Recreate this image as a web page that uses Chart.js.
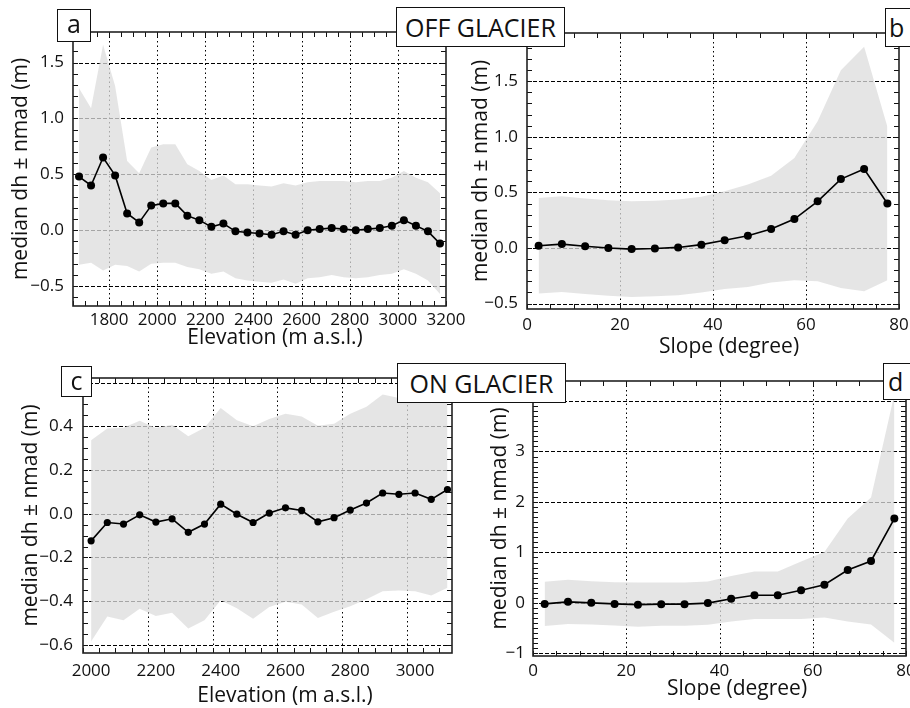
<!DOCTYPE html>
<html>
<head>
<meta charset="utf-8">
<script src="https://cdn.jsdelivr.net/npm/chart.js@4.4.0/dist/chart.umd.min.js"></script>
<style>
  body { margin: 0; background: #fff; }
  #fig { position: relative; width: 910px; height: 708px; overflow: hidden; }
  canvas { position: absolute; left: 0; top: 0; }
  .tag {
    position: absolute; box-sizing: border-box; background: #fff;
    border: 1.5px solid #111; display: flex; align-items: center; justify-content: center;
    font-family: "Open Sans", sans-serif; font-size: 25px; color: #111; line-height: 1;
  }
</style>
</head>
<body>
<div id="fig">
  <canvas id="pa" width="910" height="708"></canvas>
  <canvas id="pb" width="910" height="708"></canvas>
  <canvas id="pc" width="910" height="708"></canvas>
  <canvas id="pd" width="910" height="708"></canvas>
  <div class="tag" style="left:57px;top:9px;width:34px;height:33px;padding-bottom:4px">a</div>
  <div class="tag" style="left:885px;top:8px;width:32px;height:39px;justify-content:flex-start;padding-left:3px">b</div>
  <div class="tag" style="left:61px;top:366px;width:31px;height:31px;padding-bottom:3px">c</div>
  <div class="tag" style="left:883px;top:363px;width:34px;height:37px;justify-content:flex-start;padding-left:4px">d</div>
  <div class="tag" style="left:396px;top:7px;width:169px;height:40px">OFF GLACIER</div>
  <div class="tag" style="left:397px;top:363px;width:169px;height:40px">ON GLACIER</div>
</div>

<script>
// bins
const elevOff = [1675, 1725, 1775, 1825, 1875, 1925, 1975, 2025, 2075, 2125, 2175, 2225, 2275, 2325, 2375, 2425,
  2475, 2525, 2575, 2625, 2675, 2725, 2775, 2825, 2875, 2925, 2975, 3025, 3075, 3125, 3175];
const elevOn = [2000, 2050, 2100, 2150, 2200, 2250, 2300, 2350, 2400, 2450, 2500, 2550, 2600, 2650, 2700, 2750,
  2800, 2850, 2900, 2950, 3000, 3050, 3100];
const slopeBins = [2.5, 7.5, 12.5, 17.5, 22.5, 27.5, 32.5, 37.5, 42.5, 47.5, 52.5, 57.5, 62.5, 67.5, 72.5, 77.5];

// median dh and nmad (m)
const medOffElev = [0.48, 0.40, 0.65, 0.49, 0.15, 0.07, 0.22, 0.24, 0.24, 0.13, 0.09, 0.03, 0.06, -0.01, -0.02, -0.03,
  -0.04, -0.01, -0.04, 0.00, 0.01, 0.02, 0.01, 0.00, 0.01, 0.02, 0.04, 0.09, 0.04, -0.01, -0.12];
const nmadOffElev = [0.79, 0.69, 1.01, 0.80, 0.47, 0.44, 0.52, 0.53, 0.53, 0.46, 0.44, 0.42, 0.43, 0.42, 0.43, 0.43,
  0.43, 0.43, 0.44, 0.43, 0.43, 0.42, 0.43, 0.43, 0.43, 0.42, 0.43, 0.44, 0.43, 0.44, 0.45];
const medOffSlope = [0.02, 0.035, 0.015, 0.0, -0.01, -0.005, 0.005, 0.03, 0.07, 0.11, 0.17, 0.26, 0.42, 0.62, 0.71, 0.40];
const nmadOffSlope = [0.43, 0.43, 0.43, 0.43, 0.43, 0.43, 0.43, 0.43, 0.44, 0.46, 0.48, 0.55, 0.72, 0.98, 1.10, 0.69];
const medOnElev = [-0.124, -0.04, -0.047, -0.005, -0.038, -0.023, -0.085, -0.047, 0.044, -0.002, -0.04, 0.003,
  0.027, 0.015, -0.037, -0.018, 0.017, 0.049, 0.095, 0.089, 0.095, 0.066, 0.111];
const nmadOnElev = [0.46, 0.43, 0.44, 0.43, 0.43, 0.43, 0.44, 0.44, 0.44, 0.43, 0.44, 0.43, 0.43, 0.43, 0.44, 0.43,
  0.44, 0.44, 0.45, 0.44, 0.45, 0.44, 0.45];
const medOnSlope = [-0.02, 0.02, 0.0, -0.02, -0.035, -0.025, -0.025, -0.005, 0.08, 0.15, 0.15, 0.25, 0.36, 0.65, 0.83, 1.67];
const nmadOnSlope = [0.44, 0.44, 0.43, 0.43, 0.44, 0.43, 0.43, 0.43, 0.45, 0.47, 0.47, 0.57, 0.65, 1.02, 1.26, 2.46];

// tick labels
const elevOffTicks = [1800, 2000, 2200, 2400, 2600, 2800, 3000, 3200];
const elevOnTicks = [2000, 2200, 2400, 2600, 2800, 3000];
const slopeTicks = [0, 20, 40, 60, 80];
const dhOffTicks = [-0.5, 0.0, 0.5, 1.0, 1.5];
const dhOnElevTicks = [-0.6, -0.4, -0.2, 0.0, 0.2, 0.4];
const dhOnSlopeTicks = [-1, 0, 1, 2, 3];

const BAND = 'rgba(220,220,220,0.75)';
const FONT = '"Open Sans", sans-serif';
const YW = 70, XH = 40;
Chart.defaults.font.family = FONT;
Chart.defaults.color = '#111';

const fmt = dec => v => (v < 0 ? '\u2212' : '') + Math.abs(v).toFixed(dec);

// grid, frame, inward ticks and axis titles
function deco(p) {
  const line = (ctx, x1, y1, x2, y2) => { ctx.beginPath(); ctx.moveTo(x1, y1); ctx.lineTo(x2, y2); ctx.stroke(); };
  return {
    id: 'deco',
    beforeDatasetsDraw(chart) {
      const { ctx, chartArea: a, scales: { x, y } } = chart;
      ctx.save();
      ctx.strokeStyle = '#000';
      ctx.lineWidth = 1;
      ctx.setLineDash([4, 2]);
      p.gridY.forEach(v => { const py = Math.round(y.getPixelForValue(v)) + 0.5; line(ctx, a.left, py, a.right, py); });
      ctx.setLineDash([1.5, 3]);
      p.gridX.forEach(v => { const px = Math.round(x.getPixelForValue(v)) + 0.5; line(ctx, px, a.top, px, a.bottom); });
      ctx.restore();
    },
    afterDatasetsDraw(chart) {
      const { ctx, chartArea: a, scales: { x, y } } = chart;
      ctx.save();
      ctx.strokeStyle = '#111';
      ctx.lineWidth = 1;
      const [x0, dx] = p.minorX, [y0, dy] = p.minorY;
      for (let k = 0; x0 + k * dx <= x.max + 1e-9; k++) {
        const px = Math.round(x.getPixelForValue(x0 + k * dx)) + 0.5;
        line(ctx, px, a.bottom, px, a.bottom - 5);
        line(ctx, px, a.top, px, a.top + 5);
      }
      for (let k = 0; y0 + k * dy <= y.max + 1e-9; k++) {
        const py = Math.round(y.getPixelForValue(y0 + k * dy)) + 0.5;
        line(ctx, a.left, py, a.left + 5, py);
        line(ctx, a.right, py, a.right - 5, py);
      }
      ctx.lineWidth = 1.6;
      ctx.strokeStyle = '#222';
      ctx.strokeRect(a.left, a.top, a.right - a.left, a.bottom - a.top);
      ctx.restore();
    },
    afterDraw(chart) {
      const { ctx, chartArea: a } = chart;
      ctx.save();
      ctx.fillStyle = '#111';
      ctx.font = '21px ' + FONT;
      ctx.textAlign = 'center';
      ctx.textBaseline = 'alphabetic';
      ctx.fillText(p.xTitle, p.xTitlePos[0], p.xTitlePos[1]);
      ctx.translate(p.yTitleX, (a.top + a.bottom) / 2);
      ctx.rotate(-Math.PI / 2);
      ctx.fillText('median dh \u00b1 nmad (m)', 0, 0);
      ctx.restore();
    }
  };
}

function makePanel(id, p) {
  const upper = p.x.map((x, i) => ({ x, y: p.med[i] + p.nmad[i] }));
  const lower = p.x.map((x, i) => ({ x, y: p.med[i] - p.nmad[i] }));
  const median = p.x.map((x, i) => ({ x, y: p.med[i] }));
  const [left, right, top, bottom] = p.area;

  new Chart(document.getElementById(id), {
    type: 'line',
    data: {
      // first dataset is drawn on top
      datasets: [
        { data: median, fill: false, borderColor: '#000', borderWidth: 1.6, tension: 0,
          pointRadius: p.r, pointBackgroundColor: '#000', pointBorderWidth: 0 },
        { data: upper, fill: '+1', backgroundColor: BAND, borderColor: 'rgba(0,0,0,0)', borderWidth: 0, pointRadius: 0 },
        { data: lower, fill: false, borderColor: 'rgba(0,0,0,0)', borderWidth: 0, pointRadius: 0 }
      ]
    },
    options: {
      responsive: false,
      animation: false,
      events: [],
      layout: { padding: { left: left - YW, right: 910 - right, top: top, bottom: 708 - bottom - XH } },
      plugins: { legend: { display: false }, tooltip: { enabled: false } },
      scales: {
        x: {
          type: 'linear', min: p.xRange[0], max: p.xRange[1],
          grid: { display: false, drawTicks: false }, border: { display: false },
          afterBuildTicks: s => { s.ticks = p.xTicks.map(v => ({ value: v })); },
          afterFit: s => { s.height = XH; s.paddingLeft = 0; s.paddingRight = 0; },
          ticks: { padding: p.xPad, font: { size: 17 }, color: '#111', maxRotation: 0, autoSkip: false,
            callback: v => String(v) }
        },
        y: {
          type: 'linear', min: p.yRange[0], max: p.yRange[1],
          grid: { display: false, drawTicks: false }, border: { display: false },
          afterBuildTicks: s => { s.ticks = p.yTicks.map(v => ({ value: v })); },
          afterFit: s => { s.width = YW; s.paddingTop = 0; s.paddingBottom = 0; },
          ticks: { padding: p.yPad, font: { size: 17 }, color: '#111', autoSkip: false, callback: fmt(p.dec) }
        }
      }
    },
    plugins: [deco(p)]
  });
}

// a: off glacier vs elevation
makePanel('pa', {
  x: elevOff, med: medOffElev, nmad: nmadOffElev, r: 4,
  area: [73, 446, 32, 306], xRange: [1650, 3200], yRange: [-0.678, 1.773],
  xTicks: elevOffTicks, yTicks: dhOffTicks, dec: 1, xPad: 4, yPad: 9,
  gridX: [1800, 2000, 2200, 2400, 2600, 2800, 3000], gridY: dhOffTicks,
  minorX: [1650, 50], minorY: [-0.6, 0.1],
  xTitle: 'Elevation (m a.s.l.)', xTitlePos: [275, 344], yTitleX: 27
});

// b: off glacier vs slope
makePanel('pb', {
  x: slopeBins, med: medOffSlope, nmad: nmadOffSlope, r: 4,
  area: [527, 899, 33, 309], xRange: [0, 80], yRange: [-0.549, 1.934],
  xTicks: slopeTicks, yTicks: dhOffTicks, dec: 1, xPad: 6, yPad: 9,
  gridX: [20, 40, 60], gridY: dhOffTicks,
  minorX: [0, 5], minorY: [-0.5, 0.1],
  xTitle: 'Slope (degree)', xTitlePos: [729, 353], yTitleX: 487
});

// c: on glacier vs elevation
makePanel('pc', {
  x: elevOn, med: medOnElev, nmad: nmadOnElev, r: 3.6,
  area: [83, 452, 378, 653], xRange: [1975, 3114], yRange: [-0.637, 0.621],
  xTicks: elevOnTicks, yTicks: dhOnElevTicks, dec: 1, xPad: 8, yPad: 10,
  gridX: [2175, 2375, 2575, 2775, 2975], gridY: [-0.6, -0.4, -0.2, 0.0, 0.2, 0.4, 0.6],
  minorX: [1975, 50], minorY: [-0.6, 0.05],
  xTitle: 'Elevation (m a.s.l.)', xTitlePos: [285, 702], yTitleX: 37
});

// d: on glacier vs slope
makePanel('pd', {
  x: slopeBins, med: medOnSlope, nmad: nmadOnSlope, r: 4,
  area: [533, 906, 381, 656], xRange: [0, 80], yRange: [-1.053, 4.397],
  xTicks: slopeTicks, yTicks: dhOnSlopeTicks, dec: 0, xPad: 5, yPad: 8,
  gridX: [20, 40, 60], gridY: [-1, 0, 1, 2, 3, 4],
  minorX: [0, 5], minorY: [-1, 0.1],
  xTitle: 'Slope (degree)', xTitlePos: [737, 695], yTitleX: 506
});
</script>
</body>
</html>
